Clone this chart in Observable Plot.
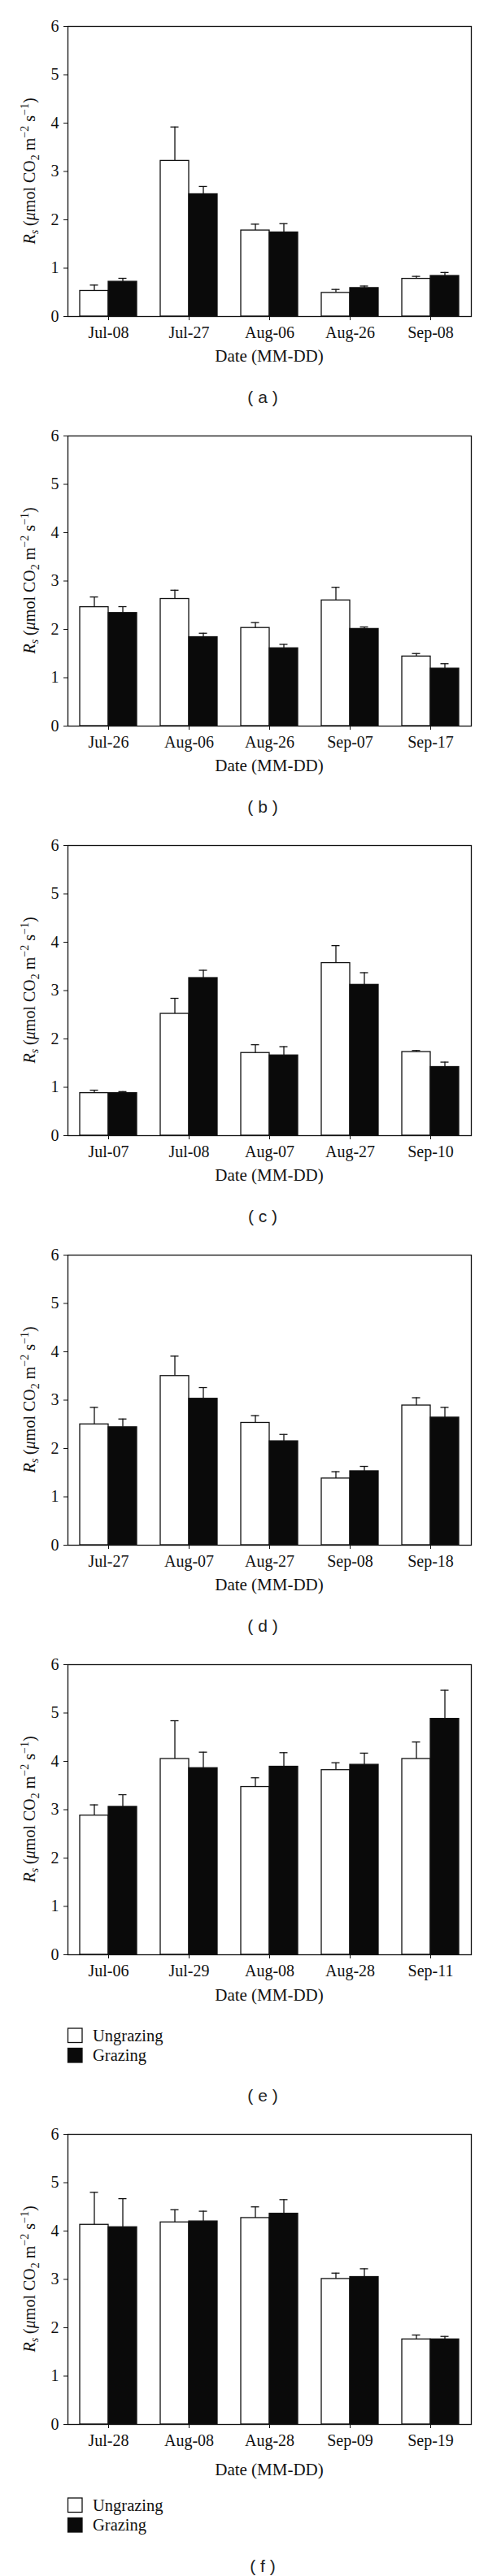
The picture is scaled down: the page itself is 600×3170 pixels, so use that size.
<!DOCTYPE html>
<html>
<head>
<meta charset="utf-8">
<script src="https://cdn.jsdelivr.net/npm/d3@7"></script>
<script src="https://cdn.jsdelivr.net/npm/@observablehq/plot@0.6"></script>
<style>
  html, body { margin: 0; padding: 0; background: #fff; }
  #chart svg { display: block; }
</style>
</head>
<body>
<div id="chart"></div>
<script>
// ---- Data ----
const panelLabels = ["a", "b", "c", "d", "e", "f"];
const seriesNames = ["Ungrazing", "Grazing"];

const datesA = ["Jul-08", "Jul-27", "Aug-06", "Aug-26", "Sep-08"];
const ungrazA = [0.53, 3.22, 1.78, 0.49, 0.78];
const ungrazErrA = [0.12, 0.70, 0.13, 0.07, 0.05];
const grazA = [0.72, 2.53, 1.74, 0.59, 0.84];
const grazErrA = [0.07, 0.16, 0.18, 0.04, 0.07];

const datesB = ["Jul-26", "Aug-06", "Aug-26", "Sep-07", "Sep-17"];
const ungrazB = [2.46, 2.63, 2.03, 2.60, 1.44];
const ungrazErrB = [0.21, 0.18, 0.11, 0.27, 0.06];
const grazB = [2.34, 1.84, 1.61, 2.01, 1.19];
const grazErrB = [0.13, 0.08, 0.08, 0.04, 0.10];

const datesC = ["Jul-07", "Jul-08", "Aug-07", "Aug-27", "Sep-10"];
const ungrazC = [0.88, 2.52, 1.71, 3.57, 1.73];
const ungrazErrC = [0.06, 0.32, 0.17, 0.36, 0.03];
const grazC = [0.88, 3.26, 1.66, 3.12, 1.42];
const grazErrC = [0.03, 0.16, 0.18, 0.25, 0.10];

const datesD = ["Jul-27", "Aug-07", "Aug-27", "Sep-08", "Sep-18"];
const ungrazD = [2.50, 3.50, 2.53, 1.38, 2.89];
const ungrazErrD = [0.35, 0.41, 0.15, 0.14, 0.16];
const grazD = [2.44, 3.03, 2.15, 1.53, 2.64];
const grazErrD = [0.17, 0.23, 0.14, 0.10, 0.21];

const datesE = ["Jul-06", "Jul-29", "Aug-08", "Aug-28", "Sep-11"];
const ungrazE = [2.88, 4.05, 3.47, 3.82, 4.05];
const ungrazErrE = [0.22, 0.79, 0.19, 0.15, 0.35];
const grazE = [3.06, 3.86, 3.89, 3.93, 4.88];
const grazErrE = [0.25, 0.33, 0.29, 0.24, 0.59];

const datesF = ["Jul-28", "Aug-08", "Aug-28", "Sep-09", "Sep-19"];
const ungrazF = [4.13, 4.18, 4.27, 3.01, 1.76];
const ungrazErrF = [0.67, 0.26, 0.23, 0.12, 0.09];
const grazF = [4.08, 4.20, 4.36, 3.05, 1.76];
const grazErrF = [0.59, 0.21, 0.29, 0.17, 0.06];

const yTicks = [0, 1, 2, 3, 4, 5, 6];
const xTitle = "Date (MM-DD)";

const panels = [
  {label: panelLabels[0], dates: datesA, u: ungrazA, ue: ungrazErrA, g: grazA, ge: grazErrA, legend: false},
  {label: panelLabels[1], dates: datesB, u: ungrazB, ue: ungrazErrB, g: grazB, ge: grazErrB, legend: false},
  {label: panelLabels[2], dates: datesC, u: ungrazC, ue: ungrazErrC, g: grazC, ge: grazErrC, legend: false},
  {label: panelLabels[3], dates: datesD, u: ungrazD, ue: ungrazErrD, g: grazD, ge: grazErrD, legend: false},
  {label: panelLabels[4], dates: datesE, u: ungrazE, ue: ungrazErrE, g: grazE, ge: grazErrE, legend: true},
  {label: panelLabels[5], dates: datesF, u: ungrazF, ue: ungrazErrF, g: grazF, ge: grazErrF, legend: true}
];

// ---- Layout / style ----
const W = 600, ML = 83, MR = 21, MT = 32, PH = 357;
const blockHeights = [504, 504, 504, 504, 578, 576];
const xLabelOffsets = [56, 56, 56, 56, 57, 63];
const captionOffsets = [107, 107, 107, 107, 181, 182];
const ink = "#111";
const dark = "#0a0a0a";
const serif = "'Liberation Serif', 'Times New Roman', serif";
const sans = "'Liberation Sans', Arial, sans-serif";
const half = 35, capHalf = 5;

const container = document.getElementById("chart");

panels.forEach((p, k) => {
  const H = blockHeights[k];
  const rows = p.dates.map((d, i) => ({date: d, u: p.u[i], ue: p.ue[i], g: p.g[i], ge: p.ge[i]}));
  const svg = Plot.plot({
    width: W,
    height: H,
    marginLeft: ML,
    marginRight: MR,
    marginTop: MT,
    marginBottom: H - MT - PH,
    style: {fontFamily: serif, fontSize: "20px", color: ink, background: "#fff"},
    x: {domain: p.dates, paddingInner: 0.295, paddingOuter: 0.1475, label: null, tickSize: 5, tickPadding: 7},
    y: {domain: [0, 6], ticks: yTicks, tickFormat: d => String(d), label: null, tickSize: 5, tickPadding: 6},
    marks: [
      Plot.barY(rows, {x: "date", y: "u", insetRight: half, fill: "#fff", stroke: ink, strokeWidth: 1.3}),
      Plot.barY(rows, {x: "date", y: "g", insetLeft: half, fill: dark, stroke: ink, strokeWidth: 1.3}),
      Plot.ruleX(rows, {x: "date", y1: "u", y2: d => d.u + d.ue, dx: -half / 2, stroke: ink, strokeWidth: 1.3}),
      Plot.tickY(rows, {x: "date", y: d => d.u + d.ue, insetLeft: half / 2 - capHalf, insetRight: half * 1.5 - capHalf, stroke: ink, strokeWidth: 1.3}),
      Plot.ruleX(rows, {x: "date", y1: "g", y2: d => d.g + d.ge, dx: half / 2, stroke: ink, strokeWidth: 1.3}),
      Plot.tickY(rows, {x: "date", y: d => d.g + d.ge, insetLeft: half * 1.5 - capHalf, insetRight: half / 2 - capHalf, stroke: ink, strokeWidth: 1.3}),
      Plot.frame({stroke: ink, strokeWidth: 1.3})
    ]
  });

  const s = d3.select(svg);
  // enlarge axis tick labels (Plot's own axis text)
  s.selectAll("text").attr("font-size", 20).attr("font-family", serif).attr("fill", ink);
  s.selectAll("line, path").filter(function () { return this.closest("g[aria-label*='axis']"); })
    .attr("stroke", ink);

  const axisY = MT + PH;
  const midX = ML + (W - ML - MR) / 2;

  // Y-axis title with italic R_s and sub/superscripts
  const yt = s.append("text")
    .attr("transform", `translate(43,${MT + PH / 2}) rotate(-90)`)
    .attr("text-anchor", "middle")
    .attr("font-family", serif)
    .attr("font-size", 20)
    .attr("fill", ink);
  yt.append("tspan").attr("font-style", "italic").text("R");
  yt.append("tspan").attr("font-style", "italic").attr("font-size", 14).attr("dy", 4).text("s");
  yt.append("tspan").attr("dy", -4).text(" (");
  yt.append("tspan").attr("font-style", "italic").text("\u03bc");
  yt.append("tspan").text("mol CO");
  yt.append("tspan").attr("font-size", 14).attr("dy", 5).text("2");
  yt.append("tspan").attr("dy", -5).text(" m");
  yt.append("tspan").attr("font-size", 14).attr("dy", -8).text("\u22122");
  yt.append("tspan").attr("dy", 8).text(" s");
  yt.append("tspan").attr("font-size", 14).attr("dy", -8).text("\u22121");
  yt.append("tspan").attr("dy", 8).text(")");

  // X-axis title
  s.append("text")
    .attr("x", midX).attr("y", axisY + xLabelOffsets[k])
    .attr("text-anchor", "middle")
    .attr("font-family", serif).attr("font-size", 21).attr("fill", ink)
    .text(xTitle);

  // Legend
  if (p.legend) {
    const fills = ["#fff", dark];
    seriesNames.forEach((name, j) => {
      const top = axisY + 91 + j * 24.5;
      s.append("rect").attr("x", ML + 0.5).attr("y", top).attr("width", 17.5).attr("height", 17.5)
        .attr("fill", fills[j]).attr("stroke", ink).attr("stroke-width", 1.3);
      s.append("text").attr("x", 114).attr("y", top + 15.5)
        .attr("text-anchor", "start")
        .attr("font-family", serif).attr("font-size", 20.5).attr("fill", ink)
        .text(name);
    });
  }

  // Panel caption
  s.append("text")
    .attr("x", 323).attr("y", axisY + captionOffsets[k])
    .attr("text-anchor", "middle")
    .attr("font-family", sans).attr("font-size", 21).attr("fill", "#222")
    .attr("xml:space", "preserve")
    .style("white-space", "pre")
    .text("( " + p.label + " )");

  container.appendChild(svg);
});
</script>
</body>
</html>
